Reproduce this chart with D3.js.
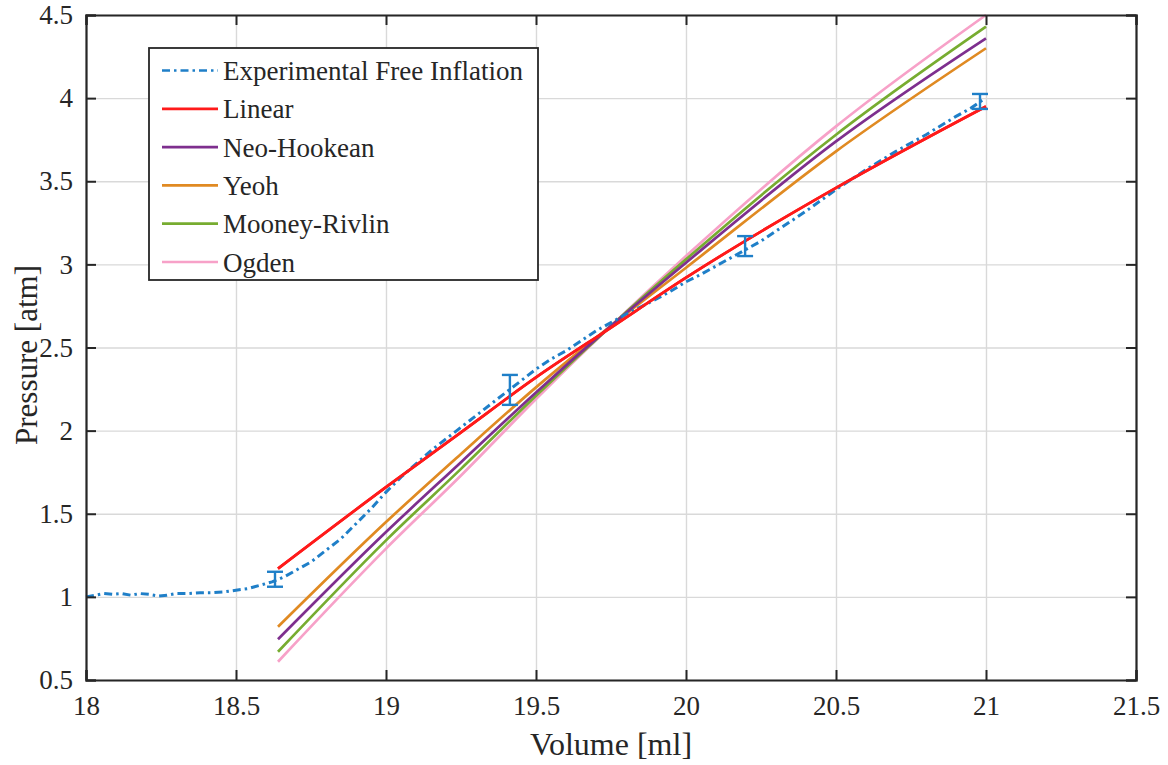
<html>
	<head>
		<title>Pressure vs Volume</title>
		<script type="text/javascript" src="https://d3js.org/d3.v7.min.js"></script>
		<style>
			body {
				margin: 0;
				background-color: #ffffff;
			}
			text {
				font-family: "Liberation Serif", "Times New Roman", serif;
				fill: #262626;
			}
		</style>
	</head>
	<body>
		<div id="chart"></div>

		<script>

			//Canvas dimensions
			var canvasWidth = 1168;
			var canvasHeight = 765;

			//Plot box
			var plotLeft = 86, plotRight = 1136, plotTop = 15, plotBottom = 680;

			//Experimental free inflation curve
			var expX = [18.00,18.03,18.06,18.09,18.12,18.15,18.18,18.21,18.24,18.27,18.30,18.34,18.38,18.42,18.46,18.50,18.54,18.58,18.62,18.66,18.70,18.75,18.80,18.85,18.90,18.95,19.00,19.05,19.10,19.15,19.20,19.25,19.30,19.35,19.40,19.45,19.50,19.55,19.60,19.65,19.70,19.75,19.80,19.85,19.90,19.95,20.00,20.05,20.10,20.15,20.20,20.25,20.30,20.40,20.50,20.60,20.70,20.80,20.90,20.95,20.99];
			var expY = [1.00,1.01,1.02,1.015,1.02,1.01,1.02,1.015,1.005,1.01,1.02,1.02,1.025,1.025,1.03,1.04,1.05,1.07,1.09,1.12,1.16,1.21,1.28,1.35,1.44,1.53,1.63,1.72,1.80,1.88,1.95,2.02,2.09,2.16,2.23,2.30,2.37,2.43,2.48,2.54,2.60,2.65,2.70,2.745,2.79,2.84,2.895,2.94,2.99,3.04,3.09,3.14,3.20,3.32,3.45,3.57,3.68,3.78,3.89,3.94,3.99];

			//Error bars on the experiment
			var errX = [18.63, 19.413, 20.197, 20.98];
			var errY = [1.106, 2.245, 3.11, 3.98];
			var errD = [0.045, 0.09, 0.06, 0.045];

			//Model fits
			var modelX = [18.64, 19.0, 19.25, 19.5, 19.75, 20.0, 20.5, 21.0];
			var linearY = [1.17, 1.66, 1.99, 2.32, 2.62, 2.92, 3.46, 3.95];
			var neoHookeanY = [0.745, 1.39, 1.81, 2.23, 2.63, 3.01, 3.74, 4.36];
			var yeohY = [0.82, 1.45, 1.86, 2.26, 2.63, 2.98, 3.68, 4.30];
			var mooneyY = [0.67, 1.34, 1.77, 2.21, 2.63, 3.03, 3.78, 4.43];
			var ogdenY = [0.61, 1.29, 1.73, 2.19, 2.63, 3.05, 3.83, 4.50];

			var legendNames = ["Experimental Free Inflation","Linear","Neo-Hookean","Yeoh","Mooney-Rivlin","Ogden"];
			var legendColors = ["#1f7fc8","#ff1a1a","#7e2f8e","#e08a22","#77ac30","#f7a1c8"];

			//Tick labels
			var xTicks = [18,18.5,19,19.5,20,20.5,21,21.5];
			var yTicks = [0.5,1,1.5,2,2.5,3,3.5,4,4.5];

			//Create the canvas
			var canvas = d3.select("#chart").append("svg")
									.attr("width",canvasWidth)
									.attr("height",canvasHeight);

			var xScale = d3.scaleLinear().domain([18,21.5]).range([plotLeft,plotRight]);
			var yScale = d3.scaleLinear().domain([0.5,4.5]).range([plotBottom,plotTop]);

			//Grid lines
			canvas.append("g").attr("class","grid").attr("transform","translate(0,"+plotBottom+")")
						.call(d3.axisBottom(xScale).tickValues(xTicks).tickSize(-(plotBottom-plotTop)).tickFormat(""))
						.call(function(g){ g.select(".domain").remove(); })
						.selectAll("line").attr("stroke","#d9d9d9").attr("stroke-width",1.4);
			canvas.append("g").attr("class","grid").attr("transform","translate("+plotLeft+",0)")
						.call(d3.axisLeft(yScale).tickValues(yTicks).tickSize(-(plotRight-plotLeft)).tickFormat(""))
						.call(function(g){ g.select(".domain").remove(); })
						.selectAll("line").attr("stroke","#d9d9d9").attr("stroke-width",1.4);

			//Model lines
			var models = [[linearY,legendColors[1]],[neoHookeanY,legendColors[2]],[yeohY,legendColors[3]],[mooneyY,legendColors[4]],[ogdenY,legendColors[5]]];
			var modelLine = d3.line().curve(d3.curveMonotoneX)
									.x(function(d,i){return xScale(modelX[i]);})
									.y(function(d){return yScale(d);});
			//draw in reverse so linear ends on top
			models.slice().reverse().forEach(function(m){
				canvas.append("path").attr("d",modelLine(m[0]))
						.attr("fill","none").attr("stroke",m[1]).attr("stroke-width",2.7);
			});

			//Experimental curve
			var expLine = d3.line()
								.x(function(d,i){return xScale(expX[i]);})
								.y(function(d){return yScale(d);});
			canvas.append("path").attr("d",expLine(expY))
					.attr("fill","none").attr("stroke",legendColors[0]).attr("stroke-width",3)
					.attr("stroke-dasharray","8,4,2.5,4");

			//Red line on top of experiment
			canvas.append("path").attr("d",modelLine(linearY))
					.attr("fill","none").attr("stroke",legendColors[1]).attr("stroke-width",2.7);

			//Error bars
			var eb = canvas.append("g").attr("stroke",legendColors[0]).attr("stroke-width",2.4);
			errX.forEach(function(x,i){
				var cx = xScale(x), y1 = yScale(errY[i]-errD[i]), y2 = yScale(errY[i]+errD[i]);
				eb.append("line").attr("x1",cx).attr("x2",cx).attr("y1",y1).attr("y2",y2);
				eb.append("line").attr("x1",cx-8).attr("x2",cx+8).attr("y1",y1).attr("y2",y1);
				eb.append("line").attr("x1",cx-8).attr("x2",cx+8).attr("y1",y2).attr("y2",y2);
			});

			//Axes with inward ticks
			var axes = canvas.append("g").attr("class","axes");
			axes.append("g").attr("transform","translate(0,"+plotBottom+")")
						.call(d3.axisBottom(xScale).tickValues(xTicks).tickSize(-10).tickPadding(16).tickFormat(d3.format("")));
			axes.append("g").attr("transform","translate("+plotLeft+",0)")
						.call(d3.axisLeft(yScale).tickValues(yTicks).tickSize(-10).tickPadding(13).tickFormat(d3.format("")));
			axes.append("g").attr("transform","translate(0,"+plotTop+")")
						.call(d3.axisTop(xScale).tickValues(xTicks).tickSize(-10).tickFormat(""));
			axes.append("g").attr("transform","translate("+plotRight+",0)")
						.call(d3.axisRight(yScale).tickValues(yTicks).tickSize(-10).tickFormat(""));
			axes.selectAll(".domain").attr("stroke","#262626").attr("stroke-width",2.2);
			axes.selectAll(".tick line").attr("stroke","#262626").attr("stroke-width",2);
			axes.selectAll(".tick text").style("font-size","27px").style("font-family","Liberation Serif").attr("fill","#262626");

			//Axis labels
			canvas.append("text").text("Volume [ml]")
					.attr("x",(plotLeft+plotRight)/2).attr("y",755)
					.attr("text-anchor","middle").style("font-size","32px");
			canvas.append("text").text("Pressure [atm]")
					.attr("transform","translate(37,355) rotate(-90)")
					.attr("text-anchor","middle").style("font-size","31px");

			//Legend
			var legend = canvas.append("g");
			legend.append("rect").attr("x",149).attr("y",48).attr("width",389).attr("height",232)
					.attr("fill","#ffffff").attr("stroke","#262626").attr("stroke-width",1.8);
			legendNames.forEach(function(name,i){
				var ly = 70.5 + i*38.3;
				legend.append("line").attr("x1",162).attr("x2",218).attr("y1",ly).attr("y2",ly)
						.attr("stroke",legendColors[i]).attr("stroke-width",2.7)
						.attr("stroke-dasharray", i == 0 ? "8,4,2.5,4" : null);
				legend.append("text").text(name).attr("x",223).attr("y",ly+9.5)
						.style("font-size","27px");
			});

		</script>
	</body>
</html>
